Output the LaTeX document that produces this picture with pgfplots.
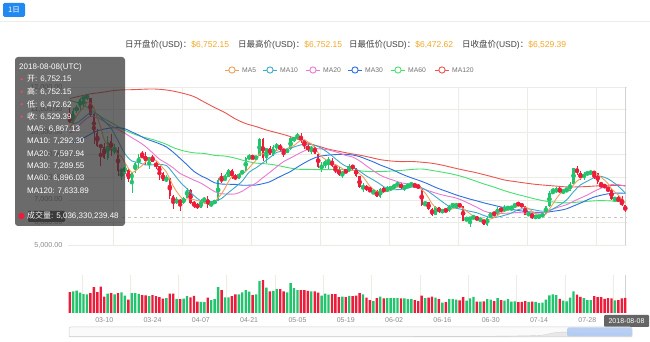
\documentclass[border=0pt]{standalone}
\usepackage{fontspec}
\setmainfont{Liberation Sans}
\newfontfamily\cjk{Noto Sans CJK SC}
\usepackage{pgfplots}
\usepackage{pgfplotstable}
\pgfplotsset{compat=1.18}
\definecolor{upc}{RGB}{34,197,110}
\definecolor{dnc}{RGB}{236,28,58}
\definecolor{ma5}{RGB}{240,160,90}
\definecolor{ma10}{RGB}{60,170,200}
\definecolor{ma20}{RGB}{235,120,210}
\definecolor{ma30}{RGB}{45,110,225}
\definecolor{ma60}{RGB}{70,225,110}
\definecolor{ma120}{RGB}{235,85,80}
\definecolor{gridc}{RGB}{236,236,228}
\definecolor{lblc}{RGB}{140,140,140}
\definecolor{tipc}{RGB}{50,50,50}
\definecolor{orangev}{RGB}{245,166,35}
\definecolor{btn}{RGB}{33,137,240}
\definecolor{selc}{RGB}{172,200,242}

\pgfplotstableread{
i o h l c v
0 10687 11089 10393 10397 7.0
1 10385 11052 10352 10951 7.2
2 10978 11189 10850 11086 7.5
3 11101 11528 11002 11489 6.8
4 11497 11512 11136 11512 6.3
5 11532 11704 11443 11573 6.2
6 11500 11500 10694 10780 6.6
7 10803 10900 9466 9965 8.6
8 9951 10147 9335 9395 7.0
9 9414 9466 8513 9337 8.8
10 9350 9531 8828 8866 5.5
11 8853 9817 8777 9578 6.5
12 9602 9937 8957 9205 6.6
13 9174 9484 9021 9194 6.2
14 9214 9355 8068 8269 6.6
15 8290 8357 7884 8300 6.9
16 8322 8585 8124 8338 5.8
17 8321 8346 7812 7916 4.5
18 7890 8245 7323 8223 6.6
19 8344 8675 8182 8630 6.6
20 8619 9051 8389 8913 6.4
21 8938 9177 8846 8930 6.0
22 8939 9100 8564 8728 5.9
23 8736 8879 8360 8879 5.6
24 8901 9008 8665 8668 6.0
25 8613 8716 8376 8495 5.6
26 8499 8499 7860 8209 5.3
27 8197 8223 7821 7833 4.8
28 7836 8108 7776 7954 5.0
29 7979 7979 7035 7165 6.5
30 7171 7225 6600 6890 6.5
31 6892 7111 6810 6973 4.6
32 7003 7060 6526 6844 4.6
33 6845 7135 6816 7083 4.8
34 7102 7530 7072 7456 5.6
35 7456 7469 6803 6853 5.2
36 6849 6934 6644 6811 5.7
37 6816 6857 6575 6636 3.8
38 6631 7050 6631 6911 3.7
39 6919 7111 6919 7023 3.6
40 7045 7179 6660 6770 5.1
41 6785 6873 6710 6834 4.3
42 6846 6970 6834 6968 4.6
43 6956 7948 6956 7889 8.6
44 7901 8183 7758 7895 7.6
45 7874 8140 7846 7986 5.2
46 8013 8350 8013 8329 5.2
47 8337 8350 7925 8058 5.6
48 8071 8155 7868 7902 6.2
49 7944 8197 7916 8163 6.2
50 8159 8298 8138 8294 6.9
51 8286 8880 8286 8845 7.6
52 8849 9036 8769 8895 7.1
53 8926 9001 8807 8802 6.0
54 8795 8958 8795 8930 6.2
55 8934 9732 8934 9697 10.6
56 9701 9745 8731 8845 11.0
57 8867 9310 8651 9281 8.5
58 9290 9375 8987 8987 7.2
59 8939 9412 8931 9348 7.4
60 9346 9531 9193 9419 8.0
61 9426 9457 9147 9240 8.0
62 9251 9255 8891 9119 7.2
63 9104 9256 9085 9235 6.9
64 9233 9767 9205 9743 10.0
65 9695 9779 9585 9700 8.3
66 9701 9964 9695 9858 7.6
67 9845 9940 9513 9654 7.6
68 9645 9645 9258 9373 7.6
69 9380 9462 9127 9234 7.4
70 9223 9374 9031 9325 7.2
71 9325 9396 9040 9043 7.2
72 9052 9052 8394 8441 6.8
73 8442 8679 8226 8504 5.8
74 8515 8773 8414 8723 6.5
75 8713 8881 8367 8716 6.1
76 8705 8836 8456 8510 6.3
77 8504 8504 8175 8368 6.3
78 8370 8439 8054 8094 5.3
79 8091 8274 7974 8250 5.5
80 8255 8372 8183 8247 5.3
81 8247 8569 8219 8513 5.7
82 8520 8559 8340 8418 5.6
83 8419 8423 8005 8041 5.8
84 8037 8038 7509 7557 6.6
85 7561 7732 7354 7587 6.2
86 7592 7659 7392 7480 5.1
87 7486 7595 7349 7355 4.3
88 7362 7381 7270 7368 4.0
89 7371 7419 7116 7135 5.0
90 7129 7526 7090 7472 5.5
91 7469 7573 7313 7406 4.9
92 7406 7608 7361 7494 5.0
93 7500 7604 7407 7541 5.0
94 7537 7704 7479 7644 5.0
95 7633 7755 7633 7720 5.0
96 7722 7754 7474 7514 4.9
97 7501 7665 7399 7633 4.9
98 7625 7701 7512 7653 4.6
99 7653 7740 7651 7678 4.6
100 7686 7686 7558 7624 4.3
101 7633 7683 7509 7531 4.0
102 7499 7499 6709 6786 5.8
103 6799 6910 6706 6906 5.0
104 6906 6907 6557 6582 5.1
105 6596 6631 6285 6349 5.5
106 6342 6707 6334 6675 5.1
107 6674 6674 6430 6456 4.6
108 6455 6592 6402 6550 3.5
109 6546 6589 6499 6499 3.6
110 6510 6787 6446 6734 4.6
111 6742 6823 6709 6769 4.6
112 6770 6821 6611 6776 4.5
113 6780 6810 6715 6729 4.2
114 6737 6747 6045 6083 5.3
115 6090 6243 6077 6162 4.1
116 6164 6255 5785 6173 4.9
117 6171 6335 6149 6249 5.4
118 6253 6280 6087 6093 3.8
119 6085 6190 6067 6157 3.8
120 6153 6171 5873 5903 3.9
121 5898 6261 5826 6218 4.6
122 6214 6465 6214 6404 4.5
123 6411 6432 6289 6385 4.0
124 6380 6683 6321 6614 5.0
125 6597 6643 6492 6529 4.3
126 6550 6771 6470 6597 4.1
127 6599 6749 6546 6639 4.6
128 6638 6676 6544 6673 3.8
129 6668 6863 6631 6856 3.9
130 6857 6885 6757 6773 3.6
131 6776 6818 6702 6741 3.7
132 6740 6740 6307 6329 4.0
133 6330 6427 6320 6394 3.7
134 6397 6397 6137 6228 3.8
135 6235 6310 6192 6238 3.7
136 6247 6298 6214 6276 3.3
137 6273 6395 6265 6359 3.5
138 6357 6741 6357 6741 4.5
139 6740 7387 6684 7321 5.9
140 7315 7534 7280 7370 6.2
141 7378 7555 7288 7466 6.0
142 7468 7613 7291 7354 4.7
143 7352 7433 7280 7419 4.1
144 7417 7537 7383 7418 3.9
145 7414 7771 7411 7711 5.1
146 7717 8424 7705 8424 7.2
147 8379 8487 8121 8181 6.1
148 8176 8272 7889 7951 5.4
149 7950 8253 7868 8165 5.0
150 8169 8222 8107 8193 4.3
151 8205 8272 8141 8219 4.3
152 8221 8221 7916 8180 5.6
153 8182 8183 7706 7780 5.3
154 7769 7769 7504 7625 5.3
155 7634 7712 7523 7567 4.7
156 7562 7562 7328 7434 5.0
157 7439 7492 6985 7032 4.9
158 7031 7088 6940 7068 4.2
159 7063 7167 6930 6951 4.3
160 6959 7150 6746 6753 4.9
161 6752.15 6752.15 6472.62 6529.39 5.04
}\ohlc

\pgfplotstableread{
i m
0 10193
1 10421
2 10705
3 10930
4 11087
5 11322
6 11288
7 11064
8 10645
9 10210
10 9669
11 9428
12 9276
13 9236
14 9022
15 8909
16 8661
17 8403
18 8209
19 8281
20 8404
21 8522
22 8685
23 8816
24 8824
25 8740
26 8596
27 8417
28 8232
29 7931
30 7610
31 7363
32 7165
33 6991
34 7049
35 7042
36 7009
37 6968
38 6933
39 6847
40 6830
41 6835
42 6901
43 7097
44 7271
45 7514
46 7813
47 8031
48 8034
49 8088
50 8149
51 8252
52 8420
53 8600
54 8753
55 9034
56 9034
57 9111
58 9148
59 9232
60 9176
61 9255
62 9223
63 9272
64 9351
65 9407
66 9531
67 9638
68 9666
69 9564
70 9489
71 9326
72 9083
73 8909
74 8807
75 8685
76 8579
77 8564
78 8482
79 8388
80 8294
81 8294
82 8304
83 8294
84 8155
85 8023
86 7817
87 7604
88 7469
89 7385
90 7362
91 7347
92 7375
93 7410
94 7511
95 7561
96 7583
97 7610
98 7633
99 7640
100 7620
101 7624
102 7454
103 7305
104 7086
105 6831
106 6660
107 6594
108 6522
109 6506
110 6583
111 6602
112 6666
113 6701
114 6618
115 6504
116 6385
117 6279
118 6152
119 6167
120 6115
121 6124
122 6155
123 6213
124 6305
125 6430
126 6506
127 6553
128 6610
129 6659
130 6708
131 6736
132 6674
133 6619
134 6493
135 6386
136 6293
137 6299
138 6368
139 6587
140 6813
141 7051
142 7250
143 7386
144 7405
145 7474
146 7665
147 7831
148 7937
149 8086
150 8183
151 8142
152 8142
153 8107
154 7999
155 7874
156 7717
157 7488
158 7345
159 7210
160 7048
161 6867
}\maA

\pgfplotstableread{
i m
0 10459
2 10400
4 10630
6 10854
8 10787
10 10495
12 10170
14 9616
16 9045
18 8723
20 8657
22 8544
24 8553
26 8559
28 8524
30 8175
32 7791
34 7490
36 7186
38 6962
40 6936
42 6935
44 7059
46 7324
48 7565
50 7832
52 8226
54 8420
56 8643
58 8874
60 9105
62 9167
64 9291
66 9393
68 9469
70 9448
72 9361
74 9186
76 8952
78 8696
80 8490
82 8434
84 8271
86 8056
88 7882
90 7693
92 7490
94 7448
96 7465
98 7521
100 7591
102 7532
104 7363
106 7142
108 6914
110 6707
112 6630
114 6562
116 6493
118 6427
120 6309
122 6217
124 6236
126 6315
128 6412
130 6569
132 6614
134 6576
136 6515
138 6494
140 6600
142 6775
144 6996
146 7358
148 7662
150 7828
152 7986
154 8043
156 7930
158 7726
160 7461
161 7292
}\maB

\pgfplotstableread{
i m
0 9958
2 10192
4 10489
6 10702
8 10650
10 10477
12 10285
14 10123
16 9950
18 9755
20 9576
22 9357
24 9084
26 8802
28 8623
30 8416
32 8168
34 8021
36 7873
38 7743
40 7556
42 7363
44 7275
46 7255
48 7264
50 7384
52 7580
54 7740
56 7984
58 8220
60 8468
62 8696
64 8856
66 9018
68 9171
70 9277
72 9264
74 9238
76 9173
78 9082
80 8969
82 8897
84 8728
86 8504
88 8289
90 8091
92 7962
94 7860
96 7760
98 7701
100 7642
102 7511
104 7405
106 7303
108 7217
110 7149
112 7081
114 6962
116 6817
118 6670
120 6508
122 6423
124 6399
126 6404
128 6419
130 6439
132 6415
134 6406
136 6415
138 6453
140 6584
142 6694
144 6786
146 6937
148 7078
150 7214
152 7380
154 7520
156 7644
158 7694
160 7645
161 7598
}\maC

\pgfplotstableread{
i m
0 9518
2 9575
4 9741
6 9905
8 10060
10 10137
12 10185
14 10198
16 10150
18 10008
20 9870
22 9705
24 9600
26 9486
28 9345
30 9109
32 8835
34 8553
36 8263
38 8070
40 7923
42 7757
44 7701
46 7690
48 7684
50 7648
52 7650
54 7657
56 7718
58 7801
60 7958
62 8109
64 8257
66 8453
68 8636
70 8795
72 8918
74 8966
76 8996
78 9013
80 9014
82 8987
84 8916
86 8800
88 8682
90 8543
92 8428
94 8302
96 8158
98 8033
100 7924
102 7819
104 7694
106 7554
108 7439
110 7330
112 7217
114 7124
116 7033
118 6954
120 6869
122 6793
124 6720
126 6650
128 6584
130 6528
132 6487
134 6458
136 6441
138 6444
140 6493
142 6535
144 6603
146 6729
148 6856
150 6999
152 7125
154 7205
156 7268
158 7294
160 7296
161 7290
}\maD

\pgfplotstableread{
i m
0 11415
3 11261
6 11021
9 10680
12 10425
15 10152
18 9952
21 9793
24 9675
27 9520
28 9462
29 9385
30 9313
33 9170
36 9084
39 9055
42 8971
45 8939
48 8846
51 8719
54 8628
57 8596
60 8533
63 8434
66 8358
69 8351
72 8337
75 8340
78 8348
81 8324
84 8286
87 8251
90 8250
93 8276
96 8305
99 8345
102 8368
105 8303
108 8226
111 8138
114 8020
117 7866
120 7706
123 7563
126 7404
129 7269
132 7153
135 7035
138 6941
141 6894
144 6863
147 6895
150 6934
153 6963
156 6959
159 6927
161 6896
}\maE

\pgfplotstableread{
i m
0 11492
3 11596
6 11697
9 11755
12 11828
15 11871
18 11881
21 11899
24 11913
27 11885
30 11818
33 11714
36 11574
39 11332
42 11088
45 10864
48 10586
51 10379
54 10247
57 10095
60 9975
63 9848
66 9691
69 9516
72 9382
75 9247
78 9151
81 9059
84 8981
87 8886
90 8782
93 8723
96 8695
99 8700
102 8669
105 8621
108 8536
111 8428
114 8324
117 8231
119 8157
120 8120
123 7999
126 7881
129 7810
132 7745
135 7687
138 7645
141 7609
144 7575
147 7573
150 7592
153 7620
156 7632
159 7636
161 7634
}\maF

\pgfplotstableread{
x y
0 0.04
40 0.05
70 0.07
80 0.12
84 0.2
86 0.45
88 0.55
90 0.42
92 0.35
95 0.36
100 0.33
}\shadow

\begin{document}
\begin{tikzpicture}[x=1pt,y=1pt]
\useasboundingbox (0,0) rectangle (650,342);
\fill[white] (0,0) rectangle (650,342);

% top bar
\fill[btn, rounded corners=1.5pt] (3,325) rectangle (25,339);
\node[text=white, font=\cjk\fontsize{7.5}{8}\selectfont, inner sep=0] at (14,332) {1日};
\draw[gray!15, line width=0.8pt] (0,321) -- (650,321);

% header
\node[anchor=west, inner sep=0, font=\fontsize{8.5}{10}\selectfont, text=black!75] at (125,297) {{\cjk 日开盘价}(USD){\cjk ：}\textcolor{orangev}{\$6,752.15}};
\node[anchor=west, inner sep=0, font=\fontsize{8.5}{10}\selectfont, text=black!75] at (238,297) {{\cjk 日最高价}(USD){\cjk ：}\textcolor{orangev}{\$6,752.15}};
\node[anchor=west, inner sep=0, font=\fontsize{8.5}{10}\selectfont, text=black!75] at (349,297) {{\cjk 日最低价}(USD){\cjk ：}\textcolor{orangev}{\$6,472.62}};
\node[anchor=west, inner sep=0, font=\fontsize{8.5}{10}\selectfont, text=black!75] at (462,297) {{\cjk 日收盘价}(USD){\cjk ：}\textcolor{orangev}{\$6,529.39}};

% main candlestick axis
\begin{axis}[at={(68pt,97pt)}, anchor=south west, scale only axis,
  width=559pt, height=158pt,
  xmin=-0.5, xmax=161.5, ymin=5000, ymax=12000,
  xtick={12.5,32.5,...,152.5}, xticklabels={},
  ytick={5000,6000,...,12000},
  scaled y ticks=false,
  xmajorgrids, ymajorgrids,
  major grid style={gridc, line width=0.6pt},
  axis line style={draw=none}, major tick length=0pt,
  yticklabel style={font=\fontsize{7.2}{8}\selectfont, text=lblc, xshift=-2pt,
    /pgf/number format/fixed, /pgf/number format/fixed zerofill,
    /pgf/number format/precision=2, /pgf/number format/1000 sep={,},
    /pgf/number format/assume math mode=true},
  clip=true]
\draw[gray!45, dashed, line width=0.5pt] (axis cs:-0.5,6240) -- (axis cs:161.5,6240);
\draw[gray!35, line width=0.6pt] (axis cs:161,5000) -- (axis cs:161,12000);
% wicks
\addplot[upc, only marks, mark=none, restrict expr to domain={\thisrow{c}-\thisrow{o}}{0:100000},
  error bars/.cd, y dir=both, y explicit, error mark=none,
  error bar style={upc, line width=0.6pt}]
  table[x=i, y expr={(\thisrow{h}+\thisrow{l})/2}, y error expr={(\thisrow{h}-\thisrow{l})/2}] {\ohlc};
\addplot[dnc, only marks, mark=none, restrict expr to domain={\thisrow{c}-\thisrow{o}}{-100000:-0.001},
  error bars/.cd, y dir=both, y explicit, error mark=none,
  error bar style={dnc, line width=0.6pt}]
  table[x=i, y expr={(\thisrow{h}+\thisrow{l})/2}, y error expr={(\thisrow{h}-\thisrow{l})/2}] {\ohlc};
% bodies
\addplot[upc, only marks, mark=none, restrict expr to domain={\thisrow{c}-\thisrow{o}}{0:100000},
  error bars/.cd, y dir=both, y explicit, error mark=none,
  error bar style={upc, line width=2.3pt}]
  table[x=i, y expr={(\thisrow{o}+\thisrow{c})/2}, y error expr={max(abs(\thisrow{c}-\thisrow{o})/2,12)}] {\ohlc};
\addplot[dnc, only marks, mark=none, restrict expr to domain={\thisrow{c}-\thisrow{o}}{-100000:-0.001},
  error bars/.cd, y dir=both, y explicit, error mark=none,
  error bar style={dnc, line width=2.3pt}]
  table[x=i, y expr={(\thisrow{o}+\thisrow{c})/2}, y error expr={max(abs(\thisrow{c}-\thisrow{o})/2,12)}] {\ohlc};
% moving averages
\addplot[ma120, line width=0.9pt, smooth, tension=0.5, mark=none] table[x=i,y=m] {\maF};
\addplot[ma60, line width=0.9pt, smooth, tension=0.5, mark=none] table[x=i,y=m] {\maE};
\addplot[ma30, line width=0.9pt, smooth, tension=0.5, mark=none] table[x=i,y=m] {\maD};
\addplot[ma20, line width=0.9pt, smooth, tension=0.5, mark=none] table[x=i,y=m] {\maC};
\addplot[ma10, line width=0.9pt, smooth, tension=0.5, mark=none] table[x=i,y=m] {\maB};
\addplot[ma5, line width=0.9pt, smooth, tension=0.4, mark=none] table[x=i,y=m] {\maA};
\end{axis}

% volume axis
\begin{axis}[at={(68pt,29pt)}, anchor=south west, scale only axis,
  width=559pt, height=38pt,
  xmin=-0.5, xmax=161.5, ymin=0, ymax=12.67,
  ytick=\empty,
  xtick={10,24,...,150},
  xticklabels={03-10,03-24,04-07,04-21,05-05,05-19,06-02,06-16,06-30,07-14,07-28},
  xticklabel style={font=\fontsize{7}{8}\selectfont, text=lblc, yshift=-1.5pt},
  extra x ticks={3.5,17.5,...,157.5}, extra x tick labels={},
  extra x tick style={grid=major, major grid style={gridc, line width=0.6pt}},
  axis line style={draw=none}, major tick length=0pt, clip=false]
\draw[gray!35, line width=0.6pt] (axis cs:161,0) -- (axis cs:161,12.67);
\addplot[ybar, bar width=2.4pt, bar shift=0pt, fill=upc, draw=none,
  restrict expr to domain={\thisrow{c}-\thisrow{o}}{0:100000}] table[x=i,y=v] {\ohlc};
\addplot[ybar, bar width=2.4pt, bar shift=0pt, fill=dnc, draw=none,
  restrict expr to domain={\thisrow{c}-\thisrow{o}}{-100000:-0.001}] table[x=i,y=v] {\ohlc};
\end{axis}

% x-axis pointer label
\fill[tipc!75, rounded corners=1pt] (604,15) rectangle (649,27);
\node[text=white, font=\fontsize{7}{8}\selectfont, inner sep=0] at (626.5,21) {2018-08-08};

% data zoom slider
\fill[gray!4, rounded corners=2pt] (69,5) rectangle (632,15);
\begin{axis}[at={(69pt,5pt)}, anchor=south west, scale only axis,
  width=563pt, height=9pt, xmin=0, xmax=100, ymin=0, ymax=1,
  axis lines=none, ticks=none]
\addplot[fill=gray!18, draw=gray!35, line width=0.4pt, smooth] table[x=x,y=y] {\shadow} \closedcycle;
\end{axis}
\fill[selc, opacity=0.85, rounded corners=1.5pt] (567,5.5) rectangle (632,14.5);
\draw[gray!35, rounded corners=2pt, line width=0.5pt] (69,5) rectangle (632,15);

% legend
\foreach \xx/\cc/\tt in {232/ma5/MA5, 270/ma10/MA10, 313/ma20/MA20, 355/ma30/MA30, 398/ma60/MA60, 442/ma120/MA120}{
  \draw[\cc, line width=0.9pt] (\xx-7,272) -- (\xx+7,272);
  \filldraw[fill=white, draw=\cc, line width=0.9pt] (\xx,272) circle (3.1);
  \node[anchor=west, inner sep=0, font=\fontsize{6.8}{8}\selectfont, text=black!55] at (\xx+10,272) {\tt};
}

% y axis pointer label (under tooltip)
\fill[tipc!85, rounded corners=1pt] (28,120) rectangle (65,131);

% tooltip
\fill[tipc, opacity=0.72, rounded corners=3pt] (15,116) rectangle (125,285);
\begin{scope}[every node/.style={anchor=west, inner sep=0, text=white, font=\fontsize{8}{9}\selectfont}]
\node at (19,275) {2018-08-08(UTC)};
\fill[dnc!80] (21.7,262.6) circle (1.3);
\fill[dnc!80] (21.7,250.2) circle (1.3);
\fill[dnc!80] (21.7,237.8) circle (1.3);
\fill[dnc!80] (21.7,225.4) circle (1.3);
\node at (27,262.6) {{\cjk 开}: 6,752.15};
\node at (27,250.2) {{\cjk 高}: 6,752.15};
\node at (27,237.8) {{\cjk 低}: 6,472.62};
\node at (27,225.4) {{\cjk 收}: 6,529.39};
\node at (27,213.0) {MA5: 6,867.13};
\node at (27,200.6) {MA10: 7,292.30};
\node at (27,188.2) {MA20: 7,597.94};
\node at (27,175.8) {MA30: 7,289.55};
\node at (27,163.4) {MA60: 6,896.03};
\node at (27,151.0) {MA120: 7,633.89};
\fill[dnc] (21.5,126) circle (3.2);
\node at (27,126) {{\cjk 成交量}: 5,036,330,239.48};
\end{scope}
\end{tikzpicture}
\end{document}
